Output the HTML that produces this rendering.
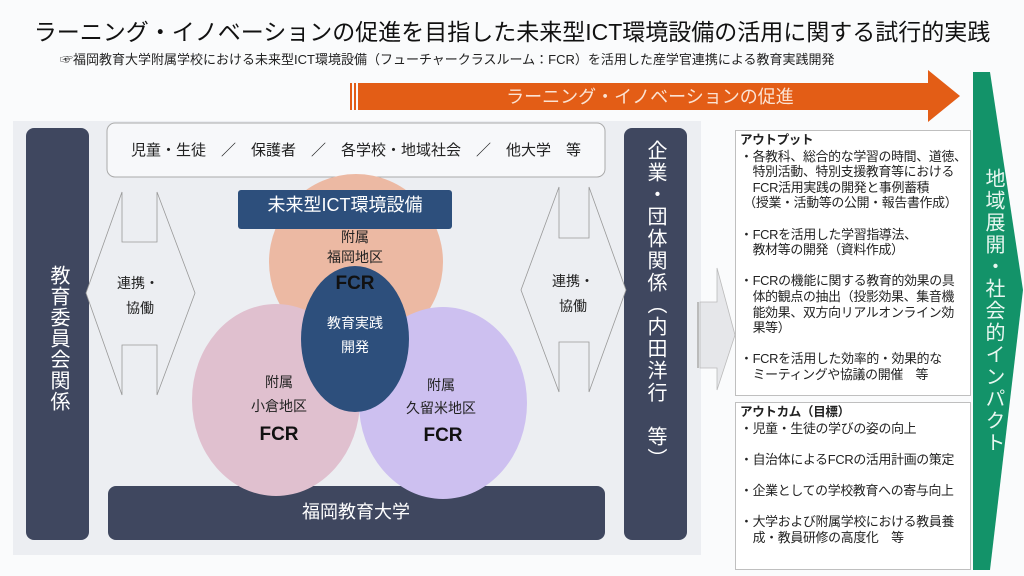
<!DOCTYPE html>
<html><head><meta charset="utf-8"><style>
body{margin:0;width:1024px;height:576px;background:#fafbfc;overflow:hidden;font-family:"Liberation Sans","Noto Sans CJK JP",sans-serif;}
svg text{font-family:"Liberation Sans","Noto Sans CJK JP",sans-serif;}
.box{position:absolute;background:#fff;border:1px solid #bfbfbf;font-size:12.9px;line-height:15.6px;color:#222;padding:1px 4px;box-sizing:border-box;white-space:nowrap;letter-spacing:-0.3px;}
.box b{font-size:12.5px;}
</style></head><body>
<svg width="1024" height="576" style="position:absolute;left:0;top:0">
<text x="512" y="40" text-anchor="middle" font-size="23" fill="#111">ラーニング・イノベーションの促進を目指した未来型ICT環境設備の活用に関する試行的実践</text>
<text x="60" y="64" font-size="13" fill="#222">☞福岡教育大学附属学校における未来型ICT環境設備（フューチャークラスルーム：FCR）を活用した産学官連携による教育実践開発</text>
<rect x="350" y="83" width="2" height="27" fill="#e35d16"/>
<rect x="354" y="83" width="2" height="27" fill="#e35d16"/>
<polygon points="358,83 928,83 928,70 960,96 928,122 928,110 358,110" fill="#e35d16"/>
<text x="650" y="103" text-anchor="middle" font-size="18" fill="#fbe3d3">ラーニング・イノベーションの促進</text>
<polygon points="973,72 990,72 1023,290 990,570 973,570" fill="#139369"/>
<text x="993" y="168" font-size="20" fill="#e8f7f0" style="writing-mode:vertical-rl" letter-spacing="2">地域展開・社会的インパクト</text>
<rect x="13" y="121" width="688" height="434" fill="#eceef2"/>
<rect x="26" y="128" width="63" height="412" rx="8" fill="#3f475f"/>
<text x="58" y="265" font-size="20" fill="#fff" style="writing-mode:vertical-rl" letter-spacing="1">教育委員会関係</text>
<rect x="624" y="128" width="63" height="412" rx="8" fill="#3f475f"/>
<text x="655" y="140" font-size="20" fill="#fff" style="writing-mode:vertical-rl" letter-spacing="2">企業・団体関係（内田洋行　等）</text>
<rect x="107" y="123" width="498" height="54" rx="8" fill="#f7f8fa" stroke="#aaa"/>
<text x="356" y="155" text-anchor="middle" font-size="15" fill="#222" xml:space="preserve">児童・生徒　／　保護者　／　各学校・地域社会　／　他大学　等</text>
<rect x="108" y="486" width="497" height="54" rx="8" fill="#3f475f"/>
<text x="356" y="518" text-anchor="middle" font-size="18" fill="#fff">福岡教育大学</text>
<polygon points="86,403 122,302 122,352 157,352 157,302 195,403 157,505 157,455 122,455 122,505" fill="#eceef2" transform="translate(0,-110)" stroke="#999" stroke-width="0.8"/>
<text x="138" y="288" text-anchor="middle" font-size="14" fill="#222">連携・</text>
<text x="140" y="313" text-anchor="middle" font-size="14" fill="#222">協働</text>
<polygon points="521,400 559,297 559,348 589,348 589,297 626,400 589,502 589,452 559,452 559,502" fill="#eceef2" transform="translate(0,-110)" stroke="#999" stroke-width="0.8"/>
<text x="573" y="286" text-anchor="middle" font-size="14" fill="#222">連携・</text>
<text x="573" y="311" text-anchor="middle" font-size="14" fill="#222">協働</text>
<ellipse cx="356" cy="262" rx="87" ry="88" fill="#ecb9a3"/>
<ellipse cx="276" cy="400" rx="84" ry="96" fill="#e0c0cf"/>
<ellipse cx="443" cy="403" rx="84" ry="96" fill="#cdc0f0"/>
<ellipse cx="355" cy="339" rx="54" ry="73" fill="#2d4f7c"/>
<rect x="238" y="190" width="214" height="39" rx="3" fill="#2d4f7c"/>
<text x="345" y="211" text-anchor="middle" font-size="18" fill="#fff">未来型ICT環境設備</text>
<text x="355" y="242" text-anchor="middle" font-size="14" fill="#222">附属</text>
<text x="355" y="262" text-anchor="middle" font-size="14" fill="#222">福岡地区</text>
<text x="355" y="289" text-anchor="middle" font-size="19" font-weight="bold" fill="#111">FCR</text>
<text x="355" y="328" text-anchor="middle" font-size="14" fill="#fff">教育実践</text>
<text x="355" y="352" text-anchor="middle" font-size="14" fill="#fff">開発</text>
<text x="279" y="387" text-anchor="middle" font-size="14" fill="#222">附属</text>
<text x="279" y="411" text-anchor="middle" font-size="14" fill="#222">小倉地区</text>
<text x="279" y="440" text-anchor="middle" font-size="19" font-weight="bold" fill="#111">FCR</text>
<text x="441" y="390" text-anchor="middle" font-size="14" fill="#222">附属</text>
<text x="441" y="413" text-anchor="middle" font-size="14" fill="#222">久留米地区</text>
<text x="443" y="441" text-anchor="middle" font-size="19" font-weight="bold" fill="#111">FCR</text>
<rect x="697" y="302" width="2" height="66" fill="#bbb"/>
<polygon points="700,302 717,302 717,268 735,335 717,390 717,368 700,368" fill="#e6e7ea" stroke="#bbb" stroke-width="0.8"/>
</svg>
<div class="box" style="left:735px;top:130px;width:236px;height:266px;">
<b>アウトプット</b><br>・各教科、総合的な学習の時間、道徳、<br>　特別活動、特別支援教育等における<br>　FCR活用実践の開発と事例蓄積<br>&nbsp;（授業・活動等の公開・報告書作成）<br><br>・FCRを活用した学習指導法、<br>　教材等の開発（資料作成）<br><br>・FCRの機能に関する教育的効果の具<br>　体的観点の抽出（投影効果、集音機<br>　能効果、双方向リアルオンライン効<br>　果等）<br><br>・FCRを活用した効率的・効果的な<br>　ミーティングや協議の開催　等
</div>
<div class="box" style="left:735px;top:402px;width:236px;height:168px;">
<b>アウトカム（目標）</b><br>・児童・生徒の学びの姿の向上<br><br>・自治体によるFCRの活用計画の策定<br><br>・企業としての学校教育への寄与向上<br><br>・大学および附属学校における教員養<br>　成・教員研修の高度化　等
</div>
</body></html>
